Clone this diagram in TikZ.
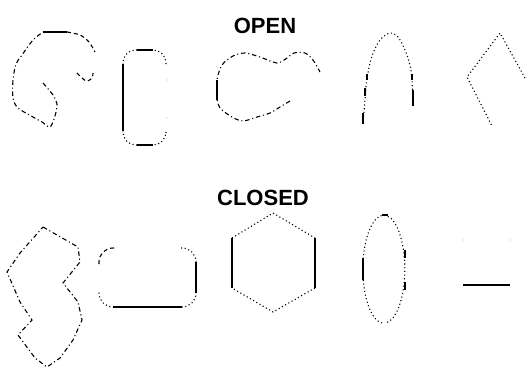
\documentclass[tikz,border=0pt]{standalone}
\usepackage{fontspec}
\setmainfont{Liberation Sans}
\usetikzlibrary{positioning}
\tikzset{
  ln/.style={line width=1.1pt,black},
  dotln/.style={ln,dash pattern=on 1.1pt off 2.6pt},
  dashln/.style={ln,dash pattern=on 4pt off 3pt},
  mixln/.style={ln,dash pattern=on 4.5pt off 2.8pt on 1.1pt off 2.8pt},
  solidln/.style={ln},
  faint/.style={fill=black!10},
  lbl/.style={font=\fontsize{22}{24}\selectfont\bfseries,inner sep=0pt},
}

\begin{document}
\begin{tikzpicture}[x=1pt,y=-1pt]
\useasboundingbox (0,0) rectangle (532,372);
\node[lbl] (open) at (265,26) {OPEN};
\node[lbl] (closed) at (263,198) {CLOSED};
% open shapes
\draw[mixln] plot[smooth] coordinates {(43,83) (53,95) (57,104) (55,116) (50,127) (42,122) (33,117) (18,108) (13,98) (13,80) (16,64) (22,55) (33,40) (43,32)};
\draw[solidln] (43,32) -- (67,32);
\draw[dashln] plot[smooth] coordinates {(67,32) (80,35) (89,42) (95,52)};
\draw[dashln] plot[smooth] coordinates {(77,73) (86,81) (92,78) (93,73)};
\draw[dotln,rounded corners=13pt] (166,64) -- (166,50) -- (123,50) -- (123,145) -- (166,145) -- (166,133);
\draw[solidln] (123,64) -- (123,131) (137,50) -- (153,50) (137,145) -- (153,145);
\fill[faint] (167,80) circle[radius=1pt] (167,118) circle[radius=1pt];
\draw[mixln] plot[smooth] coordinates {(290,101) (280,107) (270,113) (257,117) (243,121) (232,117) (220,108) (217,98) (217,80) (222,65) (233,56) (245,53) (260,57) (277,63) (287,58) (294,53) (305,53) (313,60) (320,72)};
\draw[solidln] (217,80) -- (217,100);
\draw[dotln] plot[smooth] coordinates {(363,124) (365,100) (367,78) (372,56) (380,40) (390,33) (398,37) (405,50) (410,65) (412,80) (413,106)};
\draw[solidln] (363,113) -- (363,124) (365,88) -- (365,96) (367,74) -- (367,80) (413,90) -- (413,106) (412,74) -- (412,80);
\draw[dotln] (525,78) -- (500,33) -- (467,77) -- (492,126);
% closed shapes
\draw[mixln] (43,227) -- (78,247) -- (80,262) -- (63,283) -- (78,302) -- (82,320) -- (73,340) -- (60,358) -- (47,367) -- (35,358) -- (18,335) -- (32,320) -- (20,302) -- (7,272) -- (20,253) -- cycle;
\draw[dashln,rounded corners=14pt] (99,264) -- (99,248) -- (114,248);
\draw[dotln,rounded corners=14pt] (181,248) -- (196,248) -- (196,263);
\draw[solidln] (196,262) -- (196,293);
\draw[dotln,rounded corners=14pt] (196,292) -- (196,307) -- (181,307);
\draw[solidln] (182,307) -- (113,307);
\draw[dotln,rounded corners=14pt] (114,307) -- (99,307) -- (99,292);
\draw[dotln] (232,238) -- (273,213) -- (315,238) (315,288) -- (273,312) -- (232,288);
\draw[solidln] (232,238) -- (232,288) (315,238) -- (315,288);
\draw[dotln] (382,323) arc[start angle=95,end angle=445,x radius=21,y radius=54];
\draw[solidln] (363,258) -- (363,280) (405,250) -- (405,258) (405,282) -- (405,290) (382,215) -- (388,215);
\draw[solidln] (463,285) -- (510,285);
\fill[faint] (463,240) circle[radius=1pt] (510,240) circle[radius=1pt];
\end{tikzpicture}
\end{document}
